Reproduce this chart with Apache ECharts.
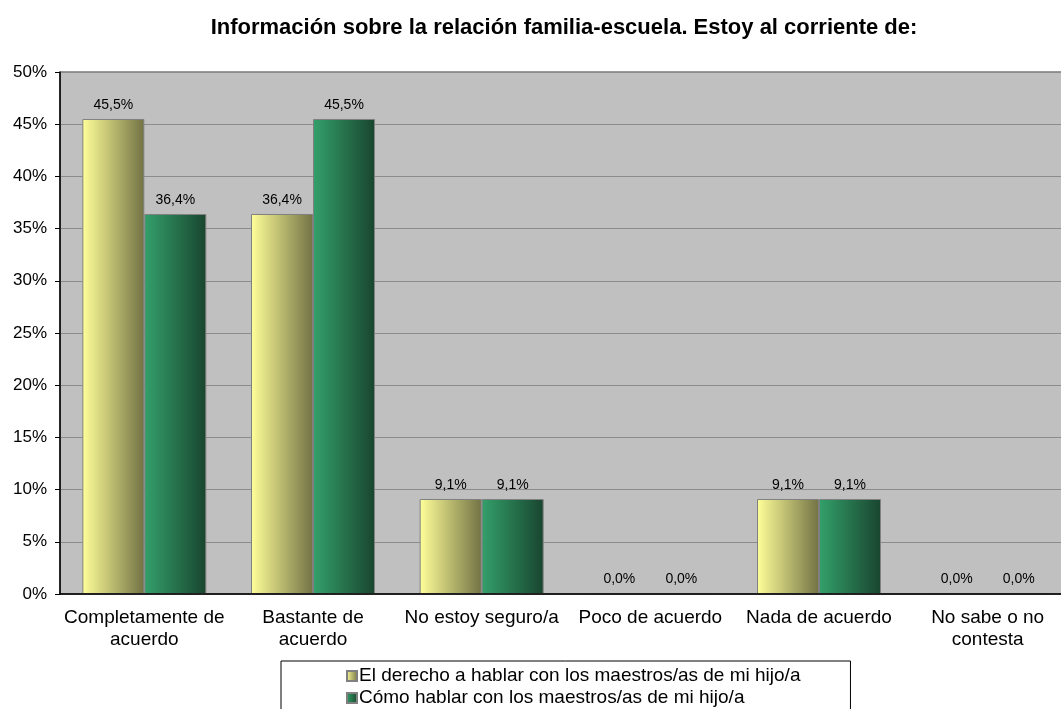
<!DOCTYPE html>
<html>
<head>
<meta charset="utf-8">
<script src="https://cdn.jsdelivr.net/npm/echarts@6/dist/echarts.min.js"></script>
<style>
  html, body { margin: 0; padding: 0; background: #fff; }
  #chart { width: 1061px; height: 709px; }
</style>
</head>
<body>
<div id="chart"></div>
<script>
// Survey answers: family–school relationship
const categories = [
  'Completamente de\nacuerdo',
  'Bastante de\nacuerdo',
  'No estoy seguro/a',
  'Poco de acuerdo',
  'Nada de acuerdo',
  'No sabe o no\ncontesta'
];
const seriesNames = [
  'El derecho a hablar con los maestros/as de mi hijo/a',
  'Cómo hablar con los maestros/as de mi hijo/a'
];
const derechoValues = [45.5, 36.4, 9.1, 0.0, 9.1, 0.0];
const comoValues = [36.4, 45.5, 9.1, 0.0, 9.1, 0.0];
const yTicks = [0, 5, 10, 15, 20, 25, 30, 35, 40, 45, 50];

const FONT = 'Arial, "Liberation Sans", sans-serif';

function hGrad(c0, c1) {
  return new echarts.graphic.LinearGradient(0, 0, 1, 0, [
    { offset: 0, color: c0 },
    { offset: 1, color: c1 }
  ]);
}

const fmt = v => v.toFixed(1).replace('.', ',') + '%';

const chart = echarts.init(document.getElementById('chart'), null, { renderer: 'canvas' });

const barLabel = {
  show: true,
  position: 'top',
  distance: 7,
  fontFamily: FONT,
  fontSize: 14,
  color: '#000',
  formatter: p => fmt(p.value)
};

chart.setOption({
  animation: false,
  textStyle: { fontFamily: FONT },
  title: {
    text: 'Información sobre la relación familia-escuela. Estoy al corriente de:',
    left: 559,
    textAlign: 'center',
    top: 12,
    textStyle: { fontFamily: FONT, fontSize: 22, fontWeight: 'bold', color: '#000' }
  },
  legend: {
    orient: 'vertical',
    left: 281,
    top: 661,
    height: 120,
    padding: [4, 50, 20, 65],
    itemGap: 0,
    itemWidth: 10,
    itemHeight: 10,
    borderColor: '#000',
    borderWidth: 1,
    backgroundColor: '#fff',
    textStyle: { fontFamily: FONT, fontSize: 19, lineHeight: 22, color: '#000', padding: [0, 0, 0, -3] },
    data: seriesNames.map(n => ({ name: n, icon: 'rect' }))
  },
  grid: {
    left: 60,
    width: 1012,
    top: 72,
    bottom: 115,
    containLabel: false,
    outerBoundsMode: 'none',
    show: true,
    backgroundColor: '#C0C0C0',
    borderColor: '#333',
    borderWidth: 1
  },
  xAxis: {
    type: 'category',
    data: categories,
    z: 5,
    axisLine: { show: true, lineStyle: { color: '#000', width: 1.5 } },
    axisTick: { show: false },
    axisLabel: {
      interval: 0,
      margin: 13,
      fontFamily: FONT,
      fontSize: 19,
      lineHeight: 22,
      color: '#000'
    }
  },
  yAxis: {
    type: 'value',
    min: 0,
    max: 50,
    interval: 5,
    axisLine: { show: true, lineStyle: { color: '#000', width: 1.5 } },
    axisTick: { show: true, length: 5, lineStyle: { color: '#000' } },
    splitLine: { show: true, lineStyle: { color: '#8c8c8c', width: 1 } },
    axisLabel: {
      margin: 13,
      fontFamily: FONT,
      fontSize: 17,
      color: '#000',
      formatter: v => (yTicks.includes(v) ? v + '%' : '')
    }
  },
  series: [
    {
      name: seriesNames[0],
      type: 'bar',
      data: derechoValues,
      barWidth: 62,
      barGap: '0%',
      itemStyle: {
        color: hGrad('#FFFF99', '#727245'),
        borderColor: '#808080',
        borderWidth: 1
      },
      label: barLabel
    },
    {
      name: seriesNames[1],
      type: 'bar',
      data: comoValues,
      barWidth: 62,
      barGap: '0%',
      itemStyle: {
        color: hGrad('#33A06A', '#19452F'),
        borderColor: '#808080',
        borderWidth: 1
      },
      label: barLabel
    }
  ]
});
</script>
</body>
</html>
